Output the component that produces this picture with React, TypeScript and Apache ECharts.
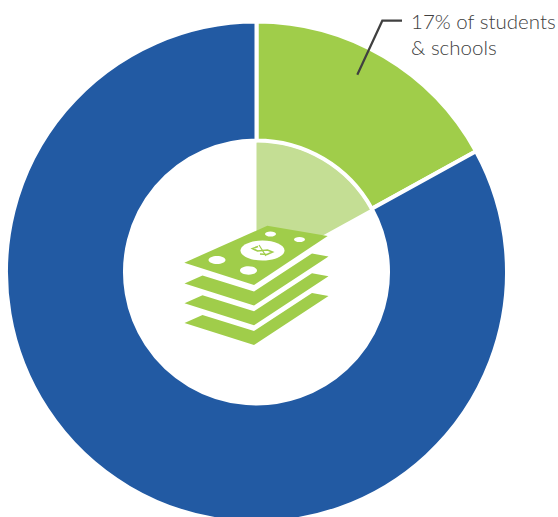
import React, { useEffect, useRef } from "react";
import * as echarts from "echarts";

const categories = ["Students & schools", "Other"];
const shareValues = [17, 83];
const calloutLines = ["17% of students", "& schools"];

const GREEN = "#A0CD4A";
const BLUE = "#225AA3";
const PALE = "#C4DE94";

function poly(points: number[][], fill: string) {
  return { type: "polygon", z: 10, shape: { points }, style: { fill }, silent: true };
}
function layer(dy: number) {
  return poly(
    [
      [184.5, 283.5 + dy],
      [202.5, 275.5 + dy],
      [254, 291.5 + dy],
      [312, 253.5 + dy],
      [328.5, 256.5 + dy],
      [254, 305.5 + dy],
    ],
    GREEN
  );
}
function spot(cx: number, cy: number, rx: number, ry: number, fill = "#fff") {
  return { type: "ellipse", z: 11, shape: { cx, cy, rx, ry }, style: { fill }, silent: true };
}

export default function App() {
  const ref = useRef<HTMLDivElement>(null);
  useEffect(() => {
    const chart = echarts.init(ref.current!, undefined, { renderer: "svg" });
    chart.setOption({
      animation: false,
      backgroundColor: "#fff",
      series: [
        {
          type: "pie",
          center: [256.5, 272],
          radius: [0, 130],
          startAngle: 90,
          clockwise: true,
          silent: true,
          label: { show: false },
          labelLine: { show: false },
          data: categories.map((name, i) => ({
            name,
            value: shareValues[i],
            itemStyle: { color: i === 0 ? PALE : "rgba(0,0,0,0)" },
          })),
        },
        {
          type: "pie",
          center: [256.5, 272],
          radius: [131.5, 250.5],
          startAngle: 90,
          clockwise: true,
          silent: true,
          label: { show: false },
          labelLine: { show: false },
          itemStyle: { borderColor: "#fff", borderWidth: 4 },
          data: categories.map((name, i) => ({
            name,
            value: shareValues[i],
            itemStyle: { color: i === 0 ? GREEN : BLUE },
          })),
        },
      ],
      graphic: [
        poly(
          [
            [184.3, 262.7],
            [267.3, 225.7],
            [327.7, 236],
            [254, 285],
          ],
          GREEN
        ),
        layer(0),
        layer(19.7),
        layer(39.4),
        spot(217, 260, 8.5, 4),
        spot(248.5, 270.5, 8.5, 4.2),
        spot(262.5, 250.5, 22, 10),
        spot(270.5, 234, 5.5, 2.6),
        spot(299.5, 239.5, 5.5, 2.6),
        {
          type: "polyline",
          z: 12,
          shape: {
            points: [
              [258, 246.5],
              [252.5, 248.5],
              [257.5, 251],
              [267.5, 250],
              [272.5, 252],
              [267, 254.5],
              [260, 254],
            ],
          },
          style: { stroke: GREEN, lineWidth: 1.6, fill: "none" },
          silent: true,
        },
        {
          type: "line",
          z: 12,
          shape: { x1: 259, y1: 245, x2: 266, y2: 256 },
          style: { stroke: GREEN, lineWidth: 1.2 },
          silent: true,
        },
        {
          type: "polyline",
          z: 12,
          shape: {
            points: [
              [357.3, 74.7],
              [382.3, 20.7],
              [402, 20.7],
            ],
          },
          style: { stroke: "#404040", lineWidth: 2.2, fill: "none" },
          silent: true,
        },
        ...calloutLines.map((t, i) => ({
          type: "text",
          z: 12,
          x: 411,
          y: 20.5 + i * 26,
          silent: true,
          style: {
            text: t,
            fill: "#404040",
            font: '300 20.5px Lato, "Noto Sans", sans-serif',
            textAlign: "left",
            textVerticalAlign: "middle",
          },
        })),
      ],
    });
    return () => chart.dispose();
  }, []);
  return (
    <div
      ref={ref}
      style={{ position: "fixed", left: 0, top: 0, width: 558, height: 517 }}
    />
  );
}
